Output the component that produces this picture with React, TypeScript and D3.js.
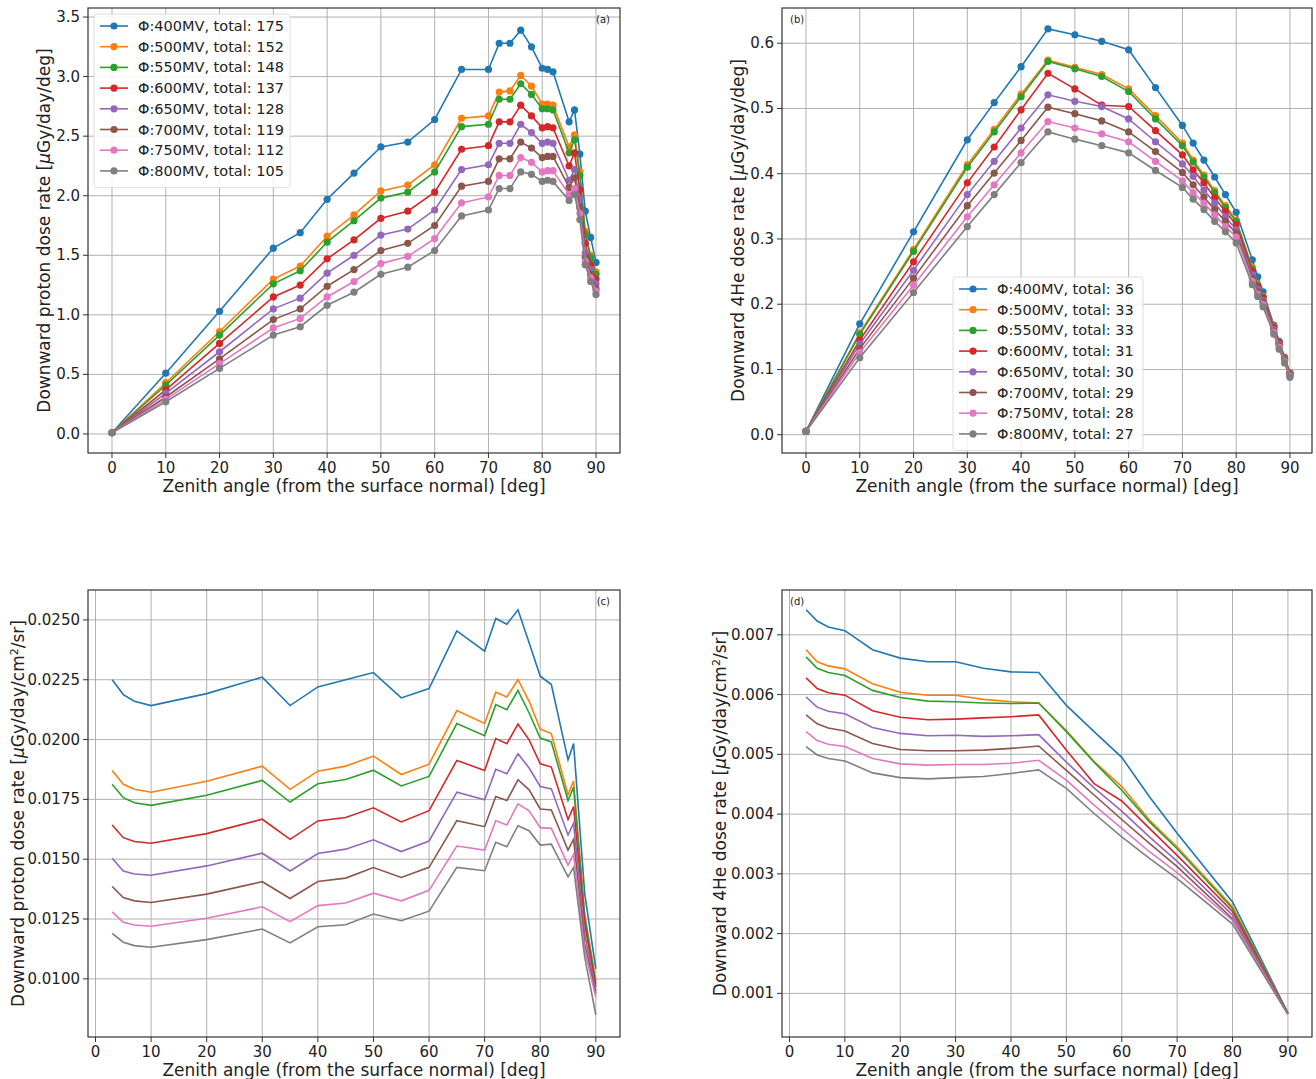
import React from "react";
import * as d3 from "d3";

const colors = ["#1f77b4", "#ff7f0e", "#2ca02c", "#d62728", "#9467bd", "#8c564b", "#e377c2", "#7f7f7f"];
const legendA = ["Φ:400MV, total: 175", "Φ:500MV, total: 152", "Φ:550MV, total: 148", "Φ:600MV, total: 137",
    "Φ:650MV, total: 128", "Φ:700MV, total: 119", "Φ:750MV, total: 112", "Φ:800MV, total: 105"];
const legendB = ["Φ:400MV, total: 36", "Φ:500MV, total: 33", "Φ:550MV, total: 33", "Φ:600MV, total: 31",
    "Φ:650MV, total: 30", "Φ:700MV, total: 29", "Φ:750MV, total: 28", "Φ:800MV, total: 27"];
const xTicks = [0, 10, 20, 30, 40, 50, 60, 70, 80, 90];

// (a) proton per deg
const angleA = [0, 10, 20, 30, 35, 40, 45, 50, 55, 60, 65, 70, 72, 74, 76, 78, 80, 81, 82, 85, 86, 87, 88, 89, 90];
const protonDeg = [
    [0.01, 0.51, 1.03, 1.56, 1.69, 1.97, 2.19, 2.41, 2.45, 2.64, 3.06, 3.06, 3.28, 3.28, 3.39, 3.25, 3.07, 3.06, 3.04, 2.62, 2.72, 2.35, 1.87, 1.65, 1.44],
    [0.01, 0.43, 0.86, 1.30, 1.41, 1.66, 1.84, 2.04, 2.09, 2.26, 2.65, 2.67, 2.87, 2.88, 3.01, 2.92, 2.77, 2.77, 2.76, 2.41, 2.51, 2.20, 1.70, 1.50, 1.36],
    [0.01, 0.41, 0.83, 1.26, 1.37, 1.61, 1.79, 1.98, 2.03, 2.20, 2.58, 2.60, 2.81, 2.81, 2.94, 2.85, 2.73, 2.73, 2.72, 2.36, 2.47, 2.17, 1.68, 1.48, 1.34],
    [0.01, 0.37, 0.76, 1.15, 1.25, 1.47, 1.63, 1.81, 1.87, 2.03, 2.39, 2.42, 2.62, 2.62, 2.76, 2.67, 2.57, 2.58, 2.57, 2.25, 2.36, 2.05, 1.60, 1.42, 1.30],
    [0.01, 0.34, 0.69, 1.05, 1.14, 1.35, 1.50, 1.67, 1.72, 1.88, 2.22, 2.26, 2.44, 2.44, 2.60, 2.53, 2.44, 2.45, 2.44, 2.13, 2.22, 1.97, 1.52, 1.38, 1.26],
    [0.01, 0.31, 0.63, 0.96, 1.05, 1.24, 1.38, 1.54, 1.60, 1.75, 2.08, 2.12, 2.31, 2.31, 2.45, 2.40, 2.32, 2.33, 2.33, 2.07, 2.15, 1.90, 1.48, 1.34, 1.22],
    [0.01, 0.29, 0.59, 0.89, 0.97, 1.15, 1.28, 1.43, 1.49, 1.64, 1.94, 1.99, 2.17, 2.17, 2.32, 2.28, 2.20, 2.21, 2.21, 2.01, 2.06, 1.85, 1.45, 1.31, 1.20],
    [0.01, 0.27, 0.55, 0.83, 0.90, 1.08, 1.19, 1.34, 1.40, 1.54, 1.83, 1.88, 2.06, 2.06, 2.20, 2.18, 2.12, 2.13, 2.12, 1.96, 2.01, 1.80, 1.42, 1.28, 1.17],
];

// (b) 4He per deg
const angleB = [0, 10, 20, 30, 35, 40, 45, 50, 55, 60, 65, 70, 72, 74, 76, 78, 80, 83, 84, 85, 87, 88, 89, 90];
const heliumDeg = [
    [0.005, 0.170, 0.311, 0.452, 0.509, 0.564, 0.622, 0.613, 0.603, 0.590, 0.532, 0.474, 0.447, 0.421, 0.395, 0.368, 0.341, 0.268, 0.242, 0.219, 0.168, 0.143, 0.119, 0.095],
    [0.005, 0.156, 0.284, 0.414, 0.468, 0.522, 0.574, 0.563, 0.552, 0.530, 0.489, 0.447, 0.421, 0.398, 0.374, 0.351, 0.329, 0.256, 0.230, 0.212, 0.166, 0.141, 0.118, 0.095],
    [0.005, 0.154, 0.281, 0.410, 0.464, 0.518, 0.572, 0.561, 0.549, 0.526, 0.484, 0.443, 0.418, 0.395, 0.371, 0.348, 0.327, 0.254, 0.229, 0.211, 0.165, 0.140, 0.117, 0.094],
    [0.005, 0.145, 0.265, 0.386, 0.441, 0.498, 0.554, 0.530, 0.505, 0.503, 0.466, 0.429, 0.406, 0.386, 0.363, 0.342, 0.322, 0.250, 0.227, 0.210, 0.164, 0.141, 0.116, 0.093],
    [0.005, 0.139, 0.252, 0.368, 0.419, 0.470, 0.521, 0.511, 0.503, 0.484, 0.449, 0.415, 0.396, 0.375, 0.355, 0.334, 0.314, 0.245, 0.223, 0.206, 0.161, 0.138, 0.115, 0.092],
    [0.005, 0.132, 0.240, 0.351, 0.401, 0.451, 0.502, 0.492, 0.481, 0.464, 0.434, 0.402, 0.383, 0.364, 0.345, 0.327, 0.309, 0.240, 0.219, 0.203, 0.159, 0.136, 0.114, 0.091],
    [0.005, 0.126, 0.229, 0.334, 0.383, 0.432, 0.480, 0.470, 0.461, 0.449, 0.419, 0.389, 0.371, 0.355, 0.337, 0.319, 0.303, 0.235, 0.215, 0.200, 0.157, 0.134, 0.112, 0.090],
    [0.005, 0.118, 0.218, 0.319, 0.368, 0.417, 0.464, 0.453, 0.443, 0.432, 0.405, 0.379, 0.361, 0.345, 0.327, 0.311, 0.294, 0.230, 0.212, 0.196, 0.154, 0.131, 0.110, 0.088],
];

// (c) proton per cm2/sr
const angleC = [3, 5, 7, 10, 20, 30, 35, 40, 45, 50, 55, 60, 65, 70, 72, 74, 76, 78, 80, 82, 85, 86, 88, 90];
const protonSr = [
    [0.0225, 0.02188, 0.0216, 0.02142, 0.02192, 0.02261, 0.02142, 0.0222, 0.0225, 0.0228, 0.02174, 0.02213, 0.02454, 0.02369, 0.02506, 0.02482, 0.02542, 0.02405, 0.02265, 0.0223, 0.01915, 0.01983, 0.01356, 0.01042],
    [0.01871, 0.01813, 0.01792, 0.0178, 0.01826, 0.01889, 0.01792, 0.01868, 0.01889, 0.01931, 0.01854, 0.01897, 0.02121, 0.02067, 0.02198, 0.02178, 0.02251, 0.0216, 0.02044, 0.02025, 0.01769, 0.01827, 0.01272, 0.00993],
    [0.01813, 0.01757, 0.01736, 0.01725, 0.01767, 0.01829, 0.01739, 0.01815, 0.01833, 0.01872, 0.01806, 0.01846, 0.02067, 0.02016, 0.02146, 0.02125, 0.02205, 0.02111, 0.02006, 0.0199, 0.01745, 0.01801, 0.01258, 0.00979],
    [0.01643, 0.0159, 0.01574, 0.01567, 0.01607, 0.01667, 0.01583, 0.0166, 0.01674, 0.01715, 0.01656, 0.01703, 0.01913, 0.01871, 0.02004, 0.01983, 0.02065, 0.01999, 0.01899, 0.01885, 0.01666, 0.0172, 0.0123, 0.00965],
    [0.01504, 0.01451, 0.01438, 0.01433, 0.01472, 0.01525, 0.01451, 0.01524, 0.01542, 0.01581, 0.01532, 0.01576, 0.0178, 0.01748, 0.01876, 0.01857, 0.01941, 0.01881, 0.01804, 0.01794, 0.01601, 0.0165, 0.01189, 0.00951],
    [0.01386, 0.0134, 0.01326, 0.01319, 0.01354, 0.01406, 0.01336, 0.01407, 0.01421, 0.01465, 0.01424, 0.01466, 0.01661, 0.01636, 0.01762, 0.01745, 0.01832, 0.0179, 0.0171, 0.01706, 0.01538, 0.01583, 0.01147, 0.00937],
    [0.0128, 0.01236, 0.01225, 0.0122, 0.01253, 0.01301, 0.01239, 0.01306, 0.01317, 0.01358, 0.01326, 0.0137, 0.01555, 0.01538, 0.01661, 0.01643, 0.01731, 0.01702, 0.01632, 0.01629, 0.01475, 0.01521, 0.01119, 0.00923],
    [0.0119, 0.01153, 0.01139, 0.01132, 0.01164, 0.01208, 0.0115, 0.01218, 0.01226, 0.01271, 0.01243, 0.01283, 0.01466, 0.01452, 0.01571, 0.01552, 0.0164, 0.01619, 0.01559, 0.01563, 0.01426, 0.01466, 0.01091, 0.0085],
];

// (d) 4He per cm2/sr
const angleD = [3, 5, 7, 10, 15, 20, 25, 30, 35, 40, 45, 50, 55, 60, 65, 70, 80, 90];
const heliumSr = [
    [0.00742, 0.00723, 0.00713, 0.00707, 0.00675, 0.00661, 0.00655, 0.00655, 0.00644, 0.00638, 0.00637, 0.00582, 0.00538, 0.00495, 0.00429, 0.00368, 0.00253, 0.00067],
    [0.00675, 0.00655, 0.00648, 0.00643, 0.00618, 0.00604, 0.00599, 0.00599, 0.00592, 0.00588, 0.00586, 0.0054, 0.00488, 0.00446, 0.0039, 0.00345, 0.00245, 0.00067],
    [0.00663, 0.00644, 0.00637, 0.00632, 0.00607, 0.00595, 0.00589, 0.00588, 0.00586, 0.00585, 0.00586, 0.00538, 0.00487, 0.0044, 0.00387, 0.00342, 0.00242, 0.00067],
    [0.00628, 0.0061, 0.00603, 0.00599, 0.00573, 0.00562, 0.00558, 0.00559, 0.00561, 0.00563, 0.00566, 0.00507, 0.00451, 0.00422, 0.00376, 0.00331, 0.00237, 0.00066],
    [0.00596, 0.00579, 0.00572, 0.00568, 0.00545, 0.00535, 0.00531, 0.00532, 0.0053, 0.00531, 0.00533, 0.00487, 0.00444, 0.00405, 0.00362, 0.00321, 0.00231, 0.00066],
    [0.00566, 0.00551, 0.00544, 0.00539, 0.00518, 0.00508, 0.00506, 0.00506, 0.00507, 0.0051, 0.00514, 0.00473, 0.00432, 0.00391, 0.00351, 0.00312, 0.00225, 0.00066],
    [0.00538, 0.00523, 0.00517, 0.00513, 0.00493, 0.00484, 0.00482, 0.00483, 0.00483, 0.00485, 0.0049, 0.00457, 0.00415, 0.00376, 0.00337, 0.00302, 0.00222, 0.00065],
    [0.00513, 0.00499, 0.00493, 0.00489, 0.00469, 0.00461, 0.00459, 0.00461, 0.00463, 0.00468, 0.00474, 0.00443, 0.00401, 0.00362, 0.00326, 0.00292, 0.00216, 0.00065],
];

const FONT = "DejaVu Sans, sans-serif";

type PanelProps = {
    box: { left: number; top: number; right: number; bottom: number };
    xDomain: [number, number];
    yDomain: [number, number];
    yTicks: number[];
    yFmt: (v: number) => string;
    xs: number[];
    series: number[][];
    markers: boolean;
    yLabel: React.ReactNode;
    yLabelX: number;
    tag: string;
    tagRight: boolean;
    legend?: string[];
    legendPos?: { x: number; y: number; w: number };
};

function Panel(p: PanelProps) {
    const { box } = p;
    const x = d3.scaleLinear().domain(p.xDomain).range([box.left, box.right]);
    const y = d3.scaleLinear().domain(p.yDomain).range([box.bottom, box.top]);
    const line = d3.line<number>().x((_, i) => x(p.xs[i])).y(d => y(d));
    const cy = (box.top + box.bottom) / 2;
    return (
        <g fontFamily={FONT}>
            {xTicks.map(t => (
                <g key={"x" + t}>
                    <line x1={x(t)} x2={x(t)} y1={box.top} y2={box.bottom} stroke="#b0b0b0" strokeWidth={1} />
                    <line x1={x(t)} x2={x(t)} y1={box.bottom} y2={box.bottom + 5} stroke="#333" />
                    <text x={x(t)} y={box.bottom + 20} textAnchor="middle" fontSize={15} fill="#222">{t}</text>
                </g>
            ))}
            {p.yTicks.map(t => (
                <g key={"y" + t}>
                    <line x1={box.left} x2={box.right} y1={y(t)} y2={y(t)} stroke="#b0b0b0" strokeWidth={1} />
                    <line x1={box.left - 5} x2={box.left} y1={y(t)} y2={y(t)} stroke="#333" />
                    <text x={box.left - 8} y={y(t) + 5} textAnchor="end" fontSize={15} fill="#222">{p.yFmt(t)}</text>
                </g>
            ))}
            {p.series.map((s, k) => (
                <g key={"s" + k}>
                    <path d={line(s) || ""} fill="none" stroke={colors[k]} strokeWidth={1.6} />
                    {p.markers && s.map((v, i) => (
                        <circle key={i} cx={x(p.xs[i])} cy={y(v)} r={3.6} fill={colors[k]} />
                    ))}
                </g>
            ))}
            <rect x={box.left} y={box.top} width={box.right - box.left} height={box.bottom - box.top} fill="none" stroke="#333" strokeWidth={1.2} />
            <text x={p.tagRight ? box.right - 10 : box.left + 8} y={box.top + 15} textAnchor={p.tagRight ? "end" : "start"} fontSize={10} fill="#222">{p.tag}</text>
            <text x={(box.left + box.right) / 2} y={box.bottom + 39} textAnchor="middle" fontSize={17} fill="#222">Zenith angle (from the surface normal) [deg]</text>
            <text transform={`translate(${p.yLabelX},${cy}) rotate(-90)`} textAnchor="middle" fontSize={17} fill="#222">{p.yLabel}</text>
            {p.legend && p.legendPos && (
                <g>
                    <rect x={p.legendPos.x} y={p.legendPos.y} width={p.legendPos.w} height={p.legend.length * 20.7 + 8}
                        fill="white" fillOpacity={0.85} stroke="#ddd" rx={3} />
                    {p.legend.map((t, k) => {
                        const ly = p.legendPos!.y + 12 + k * 20.7;
                        return (
                            <g key={t}>
                                <line x1={p.legendPos!.x + 6} x2={p.legendPos!.x + 34} y1={ly} y2={ly} stroke={colors[k]} strokeWidth={1.6} />
                                <circle cx={p.legendPos!.x + 20} cy={ly} r={3.6} fill={colors[k]} />
                                <text x={p.legendPos!.x + 44} y={ly + 5} fontSize={14.5} fill="#222">{t}</text>
                            </g>
                        );
                    })}
                </g>
            )}
        </g>
    );
}

const mu = (unit: React.ReactNode) => <>[<tspan fontStyle="italic">μ</tspan>Gy/day/{unit}]</>;
const cm2 = <>cm<tspan baselineShift="super" fontSize={11}>2</tspan>/sr</>;

export default function App() {
    return (
        <svg width={1316} height={1079} style={{ position: "absolute", left: 0, top: 0, background: "white" }}>
            <Panel box={{ left: 88, top: 8, right: 620, bottom: 453 }} xDomain={[-4.46, 94.46]} yDomain={[-0.16, 3.576]}
                yTicks={d3.range(0, 3.51, 0.5)} yFmt={d3.format(".1f")} xs={angleA} series={protonDeg} markers
                yLabel={<>Downward proton dose rate {mu("deg")}</>} yLabelX={50} tag="(a)" tagRight
                legend={legendA} legendPos={{ x: 94, y: 14, w: 196 }} />
            <Panel box={{ left: 782, top: 8, right: 1312, bottom: 453 }} xDomain={[-4.46, 94.1]} yDomain={[-0.028, 0.654]}
                yTicks={d3.range(0, 0.61, 0.1)} yFmt={d3.format(".1f")} xs={angleB} series={heliumDeg} markers
                yLabel={<>Downward 4He dose rate {mu("deg")}</>} yLabelX={744} tag="(b)" tagRight={false}
                legend={legendB} legendPos={{ x: 953, y: 277, w: 190 }} />
            <Panel box={{ left: 88, top: 590, right: 620, bottom: 1037 }} xDomain={[-1.35, 94.35]} yDomain={[0.00757, 0.02625]}
                yTicks={d3.range(0.01, 0.02501, 0.0025)} yFmt={d3.format(".4f")} xs={angleC} series={protonSr} markers={false}
                yLabel={<>Downward proton dose rate {mu(cm2)}</>}
                yLabelX={24} tag="(c)" tagRight />
            <Panel box={{ left: 782, top: 590, right: 1312, bottom: 1037 }} xDomain={[-1.35, 94.35]} yDomain={[0.00027, 0.00775]}
                yTicks={d3.range(0.001, 0.00701, 0.001)} yFmt={d3.format(".3f")} xs={angleD} series={heliumSr} markers={false}
                yLabel={<>Downward 4He dose rate {mu(cm2)}</>}
                yLabelX={726} tag="(d)" tagRight={false} />
        </svg>
    );
}
